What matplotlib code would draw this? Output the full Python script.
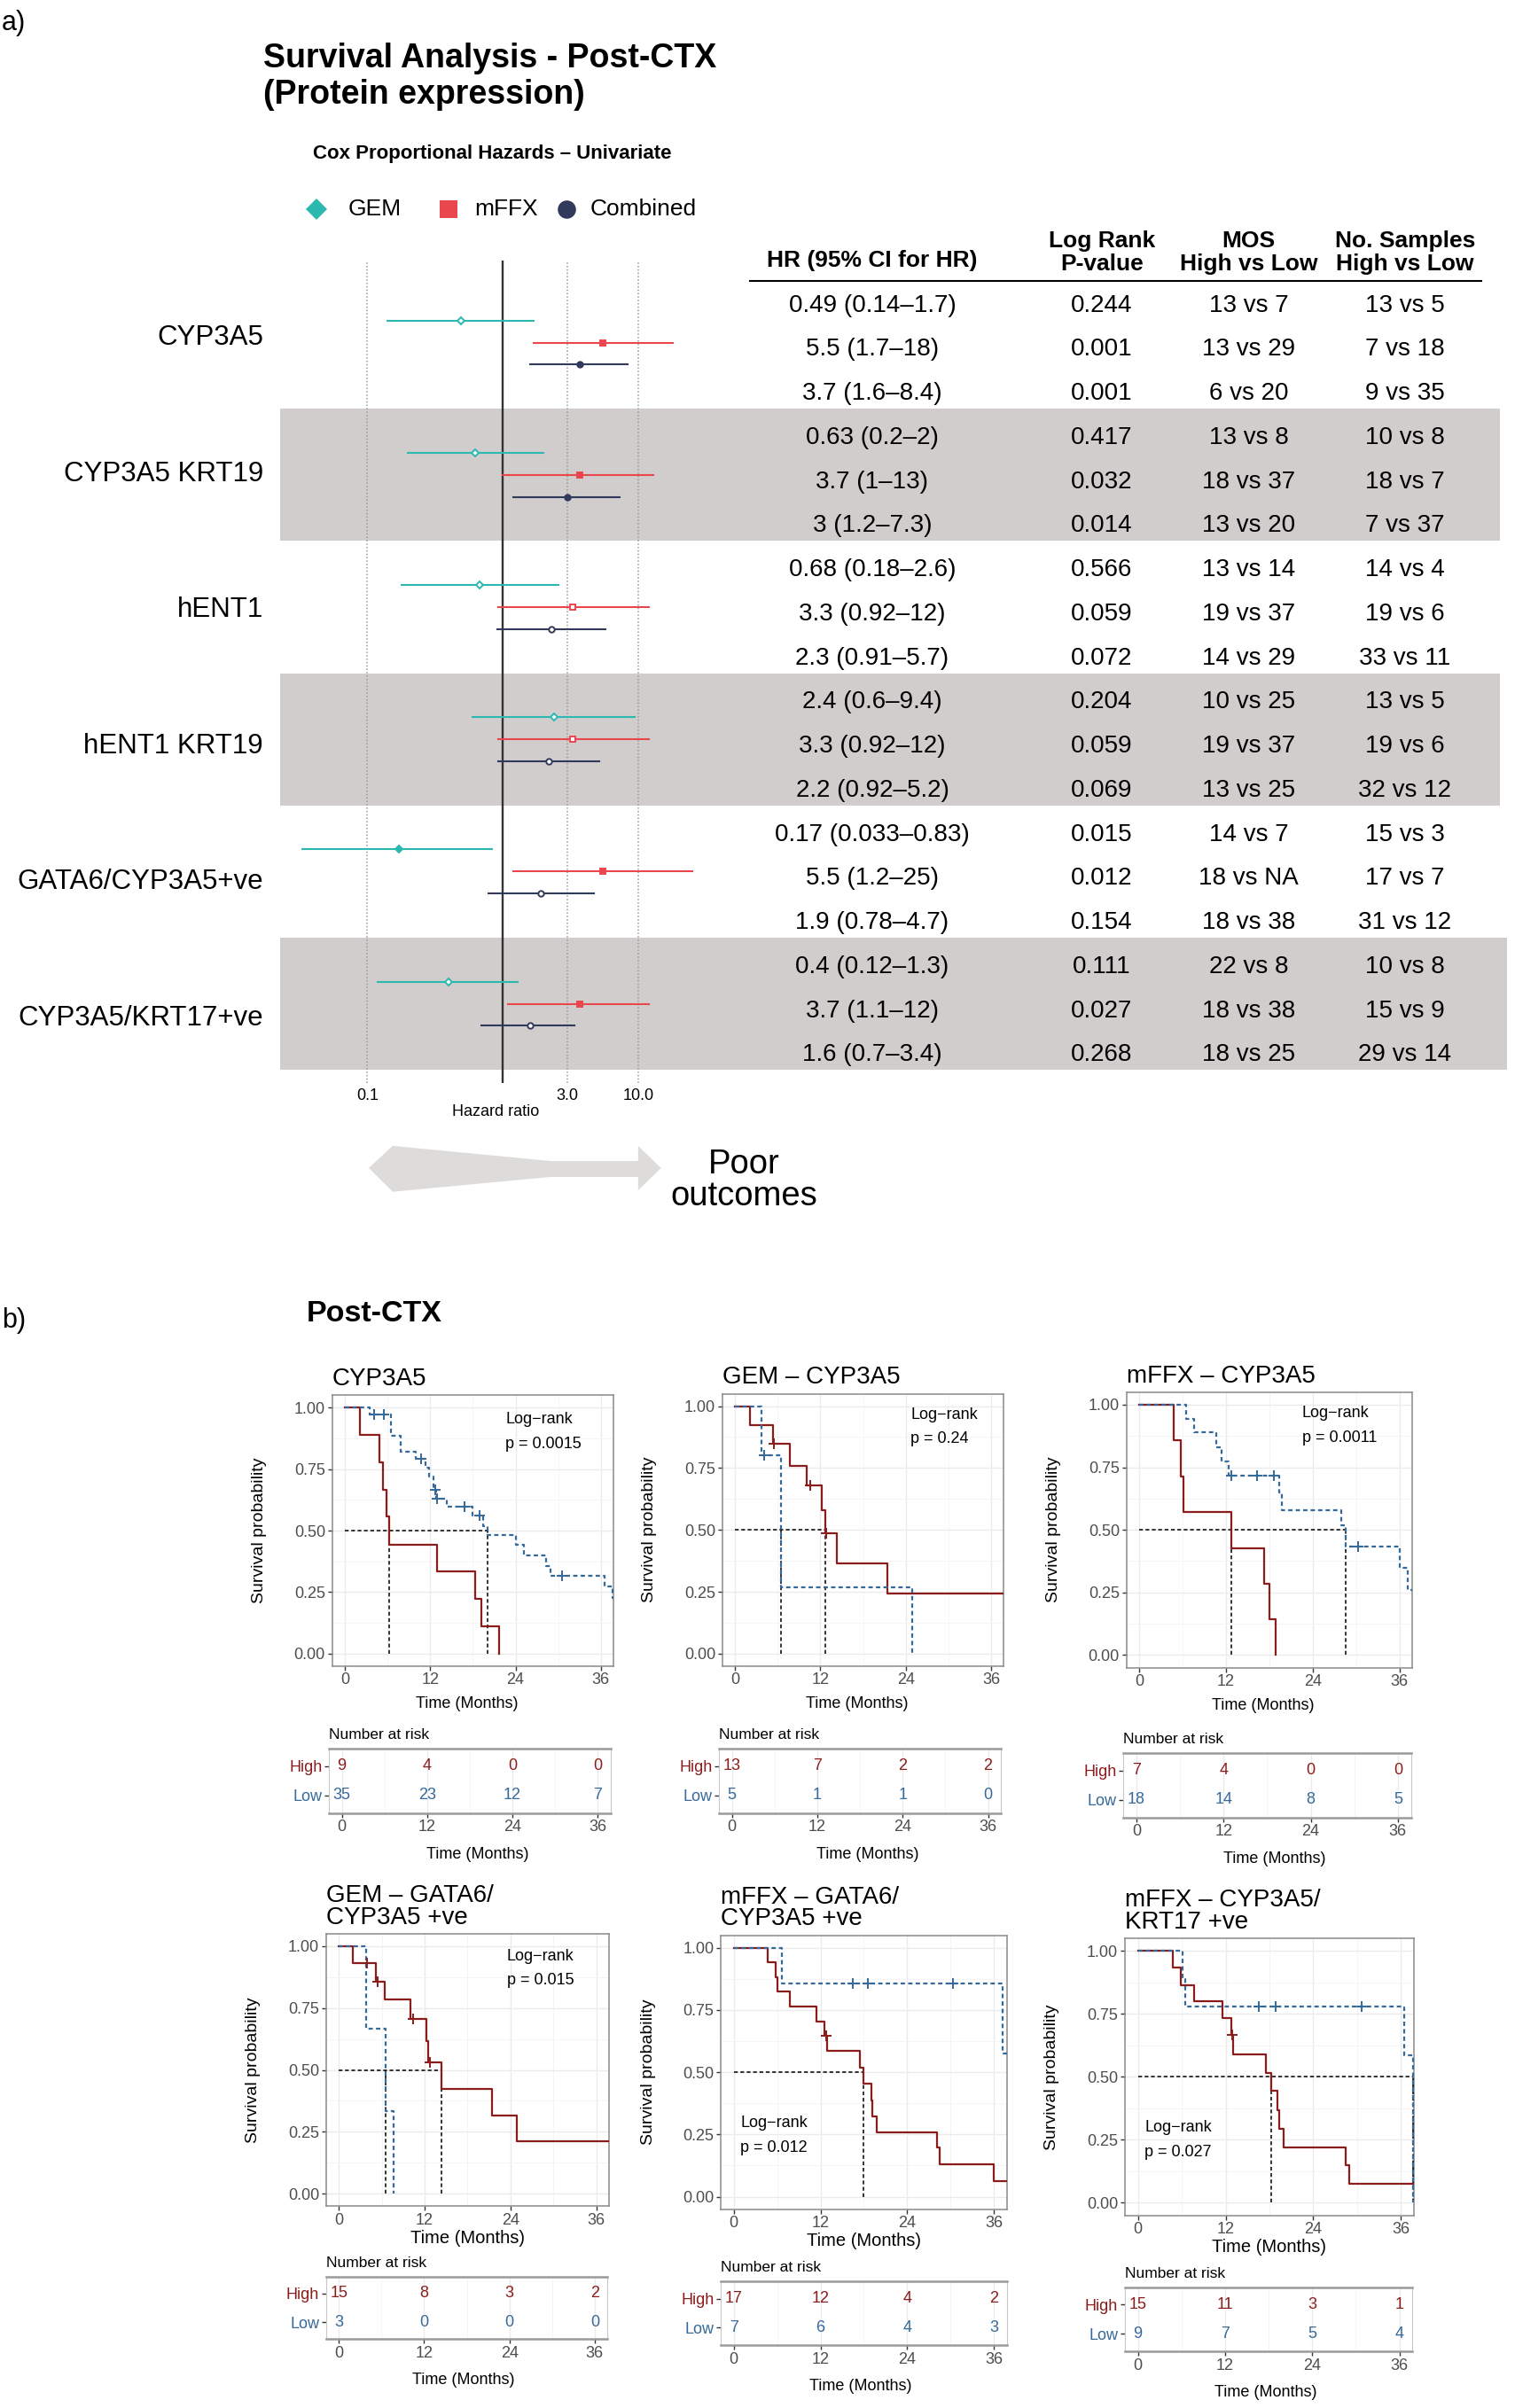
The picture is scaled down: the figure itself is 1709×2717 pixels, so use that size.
import numpy as np
import matplotlib.pyplot as plt
from matplotlib.patches import Polygon
from matplotlib.ticker import NullLocator

plt.rcParams['font.family'] = ['Liberation Sans', 'DejaVu Sans']

# ---------------- a) Cox proportional hazards, univariate ----------------
genes = ['CYP3A5', 'CYP3A5 KRT19', 'hENT1', 'hENT1 KRT19',
         'GATA6/CYP3A5+ve', 'CYP3A5/KRT17+ve']
cohorts = ['GEM', 'mFFX', 'Combined']
hr = [[0.49, 5.5, 3.7], [0.63, 3.7, 3], [0.68, 3.3, 2.3],
      [2.4, 3.3, 2.2], [0.17, 5.5, 1.9], [0.4, 3.7, 1.6]]
hr_lo = [[0.14, 1.7, 1.6], [0.2, 1, 1.2], [0.18, 0.92, 0.91],
         [0.6, 0.92, 0.92], [0.033, 1.2, 0.78], [0.12, 1.1, 0.7]]
hr_hi = [[1.7, 18, 8.4], [2, 13, 7.3], [2.6, 12, 5.7],
         [9.4, 12, 5.2], [0.83, 25, 4.7], [1.3, 12, 3.4]]
logrank = [[0.244, 0.001, 0.001], [0.417, 0.032, 0.014], [0.566, 0.059, 0.072],
           [0.204, 0.059, 0.069], [0.015, 0.012, 0.154], [0.111, 0.027, 0.268]]
mos = [['13 vs 7', '13 vs 29', '6 vs 20'], ['13 vs 8', '18 vs 37', '13 vs 20'],
       ['13 vs 14', '19 vs 37', '14 vs 29'], ['10 vs 25', '19 vs 37', '13 vs 25'],
       ['14 vs 7', '18 vs NA', '18 vs 38'], ['22 vs 8', '18 vs 38', '18 vs 25']]
n_samples = [['13 vs 5', '7 vs 18', '9 vs 35'], ['10 vs 8', '18 vs 7', '7 vs 37'],
             ['14 vs 4', '19 vs 6', '33 vs 11'], ['13 vs 5', '19 vs 6', '32 vs 12'],
             ['15 vs 3', '17 vs 7', '31 vs 12'], ['10 vs 8', '15 vs 9', '29 vs 14']]

# ---------------- b) Kaplan-Meier, post-CTX ----------------
km_titles = ['CYP3A5', 'GEM \u2013 CYP3A5', 'mFFX \u2013 CYP3A5',
             'GEM \u2013 GATA6/\nCYP3A5 +ve', 'mFFX \u2013 GATA6/\nCYP3A5 +ve',
             'mFFX \u2013 CYP3A5/\nKRT17 +ve']
km_p = ['0.0015', '0.24', '0.0011', '0.015', '0.012', '0.027']

# event times (months) and survival after each event
high_t = [[2.1, 4.8, 5.3, 5.8, 6.2, 12.9, 18.3, 19.2, 21.7],
          [2.1, 5.3, 7.7, 10.1, 12.2, 12.7, 14.3, 21.4],
          [4.7, 5.7, 6.05, 12.75, 17.3, 18.0, 18.9],
          [2.0, 5.2, 6.4, 10.0, 12.2, 12.55, 14.3, 21.4, 24.9],
          [4.75, 5.8, 6.1, 7.7, 11.45, 12.6, 12.9, 17.4, 18.0, 19.0, 19.15, 19.8, 28.1, 28.5, 36.0],
          [4.75, 5.85, 7.7, 11.6, 12.8, 13.0, 17.5, 18.2, 19.15, 19.35, 20.0, 28.4, 28.9]]
high_s = [[0.889, 0.778, 0.667, 0.556, 0.444, 0.333, 0.222, 0.111, 0.0],
          [0.923, 0.849, 0.760, 0.679, 0.581, 0.485, 0.363, 0.242],
          [0.857, 0.714, 0.571, 0.428, 0.285, 0.143, 0.0],
          [0.933, 0.858, 0.783, 0.706, 0.616, 0.530, 0.422, 0.317, 0.212],
          [0.941, 0.882, 0.824, 0.764, 0.705, 0.646, 0.585, 0.519, 0.454, 0.387, 0.324, 0.259, 0.196, 0.131, 0.064],
          [0.933, 0.865, 0.800, 0.733, 0.667, 0.590, 0.516, 0.443, 0.368, 0.294, 0.220, 0.148, 0.075]]
high_cens = [[], [5.5, 10.6, 12.8], [], [3.9, 5.4, 10.45, 12.7], [12.75], [12.9]]

low_t = [[3.5, 6.5, 7.8, 10.0, 11.3, 11.9, 12.5, 12.8, 14.3, 17.9, 19.5, 20.1, 24.0, 25.2, 28.3, 28.9, 36.5, 37.6],
         [3.7, 6.5, 24.9],
         [6.5, 7.6, 10.6, 11.4, 12.4, 19.3, 19.7, 28.0, 28.5, 36.0, 37.2],
         [3.8, 6.5, 7.7],
         [6.6, 37.2],
         [6.1, 6.5, 36.5, 37.7]]
low_s = [[0.971, 0.886, 0.820, 0.790, 0.754, 0.721, 0.666, 0.631, 0.597, 0.561, 0.519, 0.481, 0.444, 0.399, 0.357, 0.318, 0.275, 0.225],
         [0.80, 0.267, 0.0],
         [0.944, 0.889, 0.830, 0.774, 0.715, 0.650, 0.578, 0.518, 0.432, 0.350, 0.260],
         [0.667, 0.333, 0.0],
         [0.857, 0.575],
         [0.889, 0.778, 0.584, 0.0]]
low_cens = [[4.1, 5.5, 10.7, 12.7, 12.9, 16.8, 18.9, 30.6], [4.1], [12.7, 16.3, 18.6, 30.3],
            [], [16.45, 18.6, 30.3], [16.6, 18.8, 30.6]]

risk_times = [0, 12, 24, 36]
risk_high = [[9, 4, 0, 0], [13, 7, 2, 2], [7, 4, 0, 0], [15, 8, 3, 2], [17, 12, 4, 2], [15, 11, 3, 1]]
risk_low = [[35, 23, 12, 7], [5, 1, 1, 0], [18, 14, 8, 5], [3, 0, 0, 0], [7, 6, 4, 3], [9, 7, 5, 4]]

# ---------------- layout (reference units, 990 x 1574) ----------------
W, H = 990.0, 1574.0


def place(l, t, r, b):
    return [l / W, 1 - b / H, (r - l) / W, (b - t) / H]


cohort_colors = ['#2BB8B1', '#E9474D', '#323A5C']
cohort_markers = ['D', 's', 'o']
band_color = '#D0CDCC'
high_col = '#8B1C1C'
low_col = '#35699A'

fig = plt.figure(figsize=(17.09, 27.17), dpi=100)
ann = fig.add_axes([0, 0, 1, 1])
ann.set_xlim(0, W)
ann.set_ylim(H, 0)
ann.axis('off')

ann.text(1, 15, 'a)', fontsize=22, va='center')
ann.text(172, 50.2, 'Survival Analysis - Post-CTX\n(Protein expression)', fontsize=27,
         weight='bold', va='center', linespacing=1.2)
ann.text(204.5, 100.4, 'Cox Proportional Hazards \u2013 Univariate', fontsize=16,
         weight='bold', va='center')
leg_x = [207, 293, 370]
leg_tx = [227.5, 310, 385.5]
leg_ms = [12.7, 13.7, 14.8]
for k in range(3):
    ann.plot(leg_x[k], 136.5, marker=cohort_markers[k], ms=leg_ms[k], color=cohort_colors[k],
             mew=0, ls='none')
    ann.text(leg_tx[k], 136.5, cohorts[k], fontsize=19, va='center')

# forest plot + table
fa = fig.add_axes(place(183, 170.6, 490, 707.7))
ta = fig.add_axes(place(490, 170.6, 985, 707.7))
for ax in (fa, ta):
    ax.set_ylim(17.79, -0.85)
    ax.set_yticks([])
    for sp in ax.spines.values():
        sp.set_visible(False)
    ax.patch.set_visible(False)

fa.set_xscale('log')
fa.set_xlim(0.0227, 66.8)
ta.set_xlim(490, 985)
ta.set_xticks([])

for g in range(1, len(genes), 2):
    fa.axhspan(3 * g - 0.5, 3 * g + 2.5, color=band_color, lw=0, zorder=0)
    ta.axhspan(3 * g - 0.5, 3 * g + 2.5, xmax=0.99 if g < 5 else 1.0, color=band_color, lw=0, zorder=0)

for v in [0.1, 3, 10]:
    fa.axvline(v, color='#9A9A9A', ls=(0, (1, 1.5)), lw=1.1, zorder=1)
fa.axvline(1, color='#333333', lw=1.7, zorder=2)

fa.set_xticks([0.1, 3, 10])
fa.set_xticklabels(['0.1', '3.0', '10.0'])
fa.xaxis.set_minor_locator(NullLocator())
fa.tick_params(axis='x', length=0, pad=4.5, labelsize=13)
ann.text(324, 726.8, 'Hazard ratio', fontsize=13, ha='center', va='center')

forest_ms = [3.9, 4.2, 4.6]
for g in range(len(genes)):
    center = 3 * g + 1
    fa.text(-0.036, center - 0.11 + 0.087 * g, genes[g], transform=fa.get_yaxis_transform(),
            ha='right', va='center', fontsize=22.5)
    for k in range(3):
        y = center + (k - 1) * 0.5
        fa.plot([hr_lo[g][k], hr_hi[g][k]], [y, y], color=cohort_colors[k], lw=1.5, zorder=3)
        filled = logrank[g][k] < 0.05
        fa.plot(hr[g][k], y, marker=cohort_markers[k], ms=forest_ms[k], mew=1.4,
                mec=cohort_colors[k], mfc=cohort_colors[k] if filled else 'white', zorder=4)
        r = 3 * g + k + 0.16
        ta.text(570, r, f'{hr[g][k]:g} ({hr_lo[g][k]:g}\u2013{hr_hi[g][k]:g})',
                ha='center', va='center', fontsize=20)
        ta.text(720, r, f'{logrank[g][k]:.3f}', ha='center', va='center', fontsize=20)
        ta.text(816, r, mos[g][k], ha='center', va='center', fontsize=20)
        ta.text(918, r, n_samples[g][k], ha='center', va='center', fontsize=20)

hdr = dict(ha='center', va='center', fontsize=19, weight='bold')
ta.text(570, -0.85, 'HR (95% CI for HR)', **hdr)
ta.text(720, -1.30, 'Log Rank', **hdr)
ta.text(720, -0.78, 'P-value', **hdr)
ta.text(816, -1.30, 'MOS', **hdr)
ta.text(816, -0.78, 'High vs Low', **hdr)
ta.text(918, -1.30, 'No. Samples', **hdr)
ta.text(918, -0.78, 'High vs Low', **hdr)
ta.axhline(-0.395, xmax=(968 - 490) / 495, color='black', lw=1.5, clip_on=False)

arrow_xy = [(241, 763.5), (256.6, 749), (359.7, 758.9), (417, 758.9), (417, 749), (432, 763.5),
            (417, 778), (417, 769.3), (359.7, 769.3), (256.6, 779)]
ann.add_patch(Polygon(arrow_xy, closed=True, color='#DEDCDA', lw=0))
ann.text(486, 761, 'Poor', fontsize=27.5, ha='center', va='center')
ann.text(486, 782, 'outcomes', fontsize=27.5, ha='center', va='center')

# ---------------- b) ----------------
ann.text(1, 863, 'b)', fontsize=22, va='center')
ann.text(200, 859, 'Post-CTX', fontsize=24.5, weight='bold', va='center')

km_box = [(217, 912, 401, 1089), (472, 911, 656, 1089), (736, 910, 923, 1090),
          (213, 1264, 398, 1442), (471, 1265, 658, 1444), (735, 1267, 924, 1448)]
risk_box = [(215, 1143, 399, 1185), (470, 1143, 654, 1185), (734, 1146, 922, 1188),
            (213, 1488, 397, 1529), (471, 1491, 658, 1533), (735, 1495, 923, 1537)]
lr_pos = [(22.6, 0.952), (24.7, 0.966), (22.5, 0.966), (23.5, 0.96), (0.9, 0.295), (0.9, 0.30)]
xlab_gap = [25, 25, 25, 21, 21, 21]
xlab_size = [13, 13, 13, 14.5, 14.5, 14.5]
km_xoff = [-4, -4, -4, 0, 0, 0]
risk_xoff = [5, 5, 5, -2, -2, -2]

gray_txt = '#4D4D4D'
low_dash = (0, (2.2, 1.6))
med_dash = (0, (2.8, 1.9))


def style_box(ax):
    for sp in ax.spines.values():
        sp.set_color('#8A8A8A')
        sp.set_linewidth(1.1)
    ax.tick_params(which='major', color='#333333', labelcolor=gray_txt, labelsize=13,
                   length=3.5, width=1, pad=2)
    ax.tick_params(which='minor', length=0)
    ax.set_axisbelow(True)
    ax.grid(True, which='major', color='#EBEBEB', lw=1.0)
    ax.grid(True, which='minor', color='#F4F4F4', lw=0.6)


for i in range(6):
    l, t, r, b = km_box[i]
    ax = fig.add_axes(place(l, t, r, b))
    ax.set_xlim(-1.8, 37.8)
    ax.set_ylim(-0.05, 1.05)
    ax.set_xticks(risk_times)
    ax.set_xticks([6, 18, 30], minor=True)
    ax.set_yticks([0, 0.25, 0.5, 0.75, 1.0])
    ax.set_yticks([0.125, 0.375, 0.625, 0.875], minor=True)
    ax.set_yticklabels(['0.00', '0.25', '0.50', '0.75', '1.00'])
    style_box(ax)

    medians = []
    curves = [(high_t[i], high_s[i], high_cens[i], high_col, '-'),
              (low_t[i], low_s[i], low_cens[i], low_col, low_dash)]
    for times, surv, cens, col, ls in curves:
        end = times[-1] if surv[-1] == 0 else 40
        tt = [0] + list(times) + [end]
        ss = [1.0] + list(surv) + [surv[-1]]
        ax.step(tt, ss, where='post', color=col, ls=ls, lw=1.6, zorder=4)
        if cens:
            idx = np.searchsorted(times, cens, side='right')
            cs = np.r_[1.0, surv][idx]
            ax.plot(cens, cs, ls='none', marker='+', ms=9, mew=1.4, color=col, zorder=5)
        below = np.nonzero(np.array(surv) <= 0.5)[0]
        if len(below):
            medians.append(times[below[0]])
    if medians:
        ax.plot([0, max(medians)], [0.5, 0.5], color='black', ls=med_dash, lw=1.1, zorder=3)
        for m in medians:
            ax.plot([m, m], [0, 0.5], color='black', ls=med_dash, lw=1.1, zorder=3)

    lx, ly = lr_pos[i]
    ax.text(lx, ly, 'Log\u2212rank', fontsize=13, va='center')
    ax.text(lx, ly - 0.1, 'p = ' + km_p[i], fontsize=13, va='center')

    ann.text(l, t - 3, km_titles[i], fontsize=20, ha='left', va='bottom', linespacing=0.92)
    ann.text(l - 47.5, (t + b) / 2, 'Survival probability', rotation=90, fontsize=14,
             ha='center', va='center')
    ann.text((l + r) / 2 + km_xoff[i], b + xlab_gap[i], 'Time (Months)', fontsize=xlab_size[i],
             ha='center', va='center')

    # risk table
    l2, t2, r2, b2 = risk_box[i]
    rax = fig.add_axes(place(l2, t2, r2, b2))
    rax.set_xlim(-1.8, 37.8)
    rax.set_ylim(0.4, 2.6)
    rax.set_xticks(risk_times)
    rax.set_xticks([6, 18, 30], minor=True)
    rax.set_yticks([2, 1])
    rax.set_yticklabels(['High', 'Low'])
    style_box(rax)
    rax.grid(False, axis='y', which='both')
    for sp in ['top', 'bottom']:
        rax.spines[sp].set_linewidth(1.8)
        rax.spines[sp].set_color('#9A9A9A')
    for sp in ['left', 'right']:
        rax.spines[sp].set_linewidth(0.8)
        rax.spines[sp].set_color('#C8C8C8')
    for lab, c in zip(rax.get_yticklabels(), [high_col, low_col]):
        lab.set_color(c)
    for j, tm in enumerate(risk_times):
        rax.text(tm, 2, str(risk_high[i][j]), color=high_col, ha='center', va='center', fontsize=13)
        rax.text(tm, 1, str(risk_low[i][j]), color=low_col, ha='center', va='center', fontsize=13)
    ann.text(l2, t2 - 9, 'Number at risk', fontsize=12.5, ha='left', va='center')
    ann.text((l2 + r2) / 2 + risk_xoff[i], b2 + 27, 'Time (Months)', fontsize=13,
             ha='center', va='center')

fig.savefig('out.png', dpi=100)
